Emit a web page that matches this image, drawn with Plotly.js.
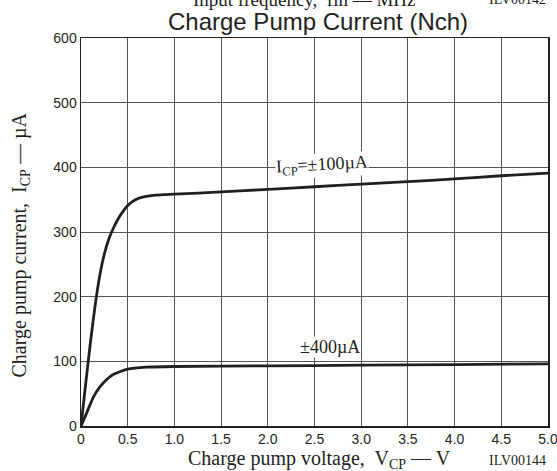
<!DOCTYPE html>
<html>
<head>
<meta charset="utf-8">
<script src="https://cdn.plot.ly/plotly-3.0.1.min.js"></script>
<style>html,body{margin:0;padding:0;background:#fff;}#chart{width:557px;height:471px;}</style>
</head>
<body>
<div id="chart"></div>
<script>
// Charge pump voltage (V) and current (uA)
const v100 = [0, 0.05, 0.1, 0.15, 0.2, 0.25, 0.3, 0.35, 0.4, 0.45, 0.5, 0.55, 0.6, 0.65, 0.7, 0.8, 0.9, 1.0, 1.5, 2.0, 2.5, 3.0, 3.5, 4.0, 4.5, 5.0];
const i100 = [0, 65, 128, 185, 232, 266, 290, 307, 321, 332, 341, 347, 351, 353.5, 355, 357, 357.8, 358.5, 362, 366, 370, 374, 378, 382, 387, 391];
const v400 = [0, 0.06, 0.13, 0.2, 0.275, 0.35, 0.5, 0.7, 1.0, 2.0, 3.0, 4.0, 5.0];
const i400 = [0, 20, 44, 60, 72, 80, 88, 91, 92, 93, 94, 95, 96];
const xTicks = [0, 0.5, 1.0, 1.5, 2.0, 2.5, 3.0, 3.5, 4.0, 4.5, 5.0];
const xTickText = ["0", "0.5", "1.0", "1.5", "2.0", "2.5", "3.0", "3.5", "4.0", "4.5", "5.0"];
const yTicks = [0, 100, 200, 300, 400, 500, 600];
const label100 = {x: 2.58, y: 403, text: "I<sub>CP</sub>=±100µA"};
const label400 = {x: 2.67, y: 122, text: "±400µA"};

const lineStyle = {color: "#231f20", width: 2.8, shape: "spline", smoothing: 0.5};
const traces = [
  {x: v100, y: i100, mode: "lines", line: lineStyle, hoverinfo: "skip"},
  {x: v400, y: i400, mode: "lines", line: lineStyle, hoverinfo: "skip"}
];
const serif = "Liberation Serif, Times New Roman, serif";
const sans = "Liberation Sans, Arial, sans-serif";
const ink = "#231f20";
const layout = {
  width: 557, height: 471,
  margin: {l: 81, r: 9, t: 38, b: 45, pad: 0},
  paper_bgcolor: "#fff", plot_bgcolor: "#fff",
  showlegend: false,
  title: {text: "Charge Pump Current (Nch)", font: {family: sans, size: 24, color: ink}, x: 0.571, xanchor: "center", y: 0.955, yanchor: "middle"},
  xaxis: {
    range: [0, 5], tickvals: xTicks, ticktext: xTickText, ticks: "", ticklabeloverflow: "allow",
    showgrid: true, gridcolor: "#555", gridwidth: 1,
    zeroline: false, showline: true, linecolor: ink, linewidth: 1.5, mirror: true,
    tickfont: {family: sans, size: 14, color: ink}
  },
  yaxis: {
    range: [0, 600], tickvals: yTicks, ticks: "",
    showgrid: true, gridcolor: "#555", gridwidth: 1,
    zeroline: false, showline: true, linecolor: ink, linewidth: 1.5, mirror: true,
    tickfont: {family: sans, size: 14, color: ink}
  },
  annotations: [
    {x: label100.x, y: label100.y, xref: "x", yref: "y", text: label100.text, showarrow: false, textangle: -3,
     font: {family: serif, size: 18, color: ink}, bgcolor: "#fff", borderpad: 0},
    {x: label400.x, y: label400.y, xref: "x", yref: "y", text: label400.text, showarrow: false,
     font: {family: serif, size: 18, color: ink}, bgcolor: "#fff", borderpad: 0},
    {x: 0.51, y: -0.087, xref: "paper", yref: "paper", xanchor: "center", yanchor: "middle", showarrow: false,
     text: "Charge pump voltage,  V<sub>CP</sub> — V", font: {family: serif, size: 20, color: ink}},
    {x: -0.13, y: 0.466, xref: "paper", yref: "paper", xanchor: "center", yanchor: "middle", showarrow: false, textangle: -90,
     text: "Charge pump current,  I<sub>CP</sub> — µA", font: {family: serif, size: 20, color: ink}},
    {x: 1.0, y: -0.09, xref: "paper", yref: "paper", xanchor: "right", yanchor: "middle", text: "ILV00144", showarrow: false,
     font: {family: serif, size: 14, color: ink}},
    {x: 0.72, y: 1.1, xref: "paper", yref: "paper", xanchor: "right", yanchor: "middle", text: "Input frequency,  fin — MHz", showarrow: false,
     font: {family: serif, size: 19, color: ink}},
    {x: 1.0, y: 1.1, xref: "paper", yref: "paper", xanchor: "right", yanchor: "middle", text: "ILV00142", showarrow: false,
     font: {family: serif, size: 14, color: ink}}
  ]
};
Plotly.newPlot("chart", traces, layout, {staticPlot: true, displayModeBar: false});
</script>
</body>
</html>
